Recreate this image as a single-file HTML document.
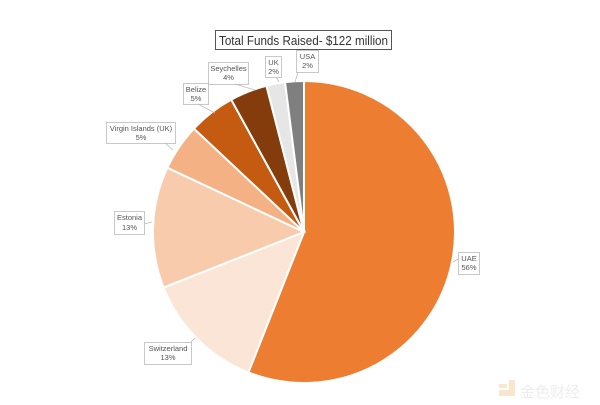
<!DOCTYPE html>
<html><head><meta charset="utf-8"><style>
html,body{margin:0;padding:0;background:#fff;width:600px;height:405px;overflow:hidden}
svg{display:block;font-family:"Liberation Sans",sans-serif}
</style></head><body>
<svg id="s" width="600" height="405" viewBox="0 0 600 405">
<g id="pie"></g>
<rect x="215.5" y="30.5" width="176" height="19" fill="#fff" stroke="#555" stroke-width="1"/>
<text x="219" y="45" font-size="12.5" textLength="169" lengthAdjust="spacingAndGlyphs" fill="#333">Total Funds Raised- $122 million</text>
<g font-size="7.5" fill="#555" text-anchor="middle" stroke-width="0.8">
<g stroke="#bbb" fill="none">
<rect x="296.5" y="50.5" width="22" height="22"/>
<rect x="265.5" y="56.5" width="16" height="21"/>
<rect x="208.5" y="62.5" width="40" height="22"/>
<rect x="183.5" y="83.5" width="25" height="21"/>
<rect x="106.5" y="122.5" width="69" height="21"/>
<rect x="114.5" y="211.5" width="30" height="23"/>
<rect x="144.5" y="342.5" width="47" height="22"/>
<rect x="458.5" y="252.5" width="21" height="22"/>
<path d="M298 72 L295 82 M276 77 L279 82 M235 84 L255 90 M198 104 L215 113 M165 143 L173 150 M144 224 L152 222 M191 342 L195 338 M458 259 L453 262"/>
</g>
<text x="307.5" y="59">USA</text><text x="307.5" y="68">2%</text>
<text x="273.5" y="65">UK</text><text x="273.5" y="74">2%</text>
<text x="228.5" y="71">Seychelles</text><text x="228.5" y="80">4%</text>
<text x="196" y="92">Belize</text><text x="196" y="101">5%</text>
<text x="141" y="131">Virgin Islands (UK)</text><text x="141" y="140">5%</text>
<text x="129.5" y="220">Estonia</text><text x="129.5" y="230">13%</text>
<text x="168" y="351">Switzerland</text><text x="168" y="360">13%</text>
<text x="469" y="261">UAE</text><text x="469" y="270">56%</text>
</g>
<g opacity="0.25">
<rect x="499" y="384" width="8" height="4" fill="#e9a23b"/>
<rect x="499" y="390" width="16" height="6" fill="#e9a23b"/>
<rect x="509" y="380" width="6" height="10" fill="#e9a23b"/>
<text x="520" y="397" font-size="15" fill="#bbb" font-family="'Noto Sans CJK SC',sans-serif">金色财经</text>
</g>
</svg>
<script>
var cx=304,cy=232,r=151;
var d=[[56,"#ED7D31"],[13,"#FBE5D6"],[13,"#F8CBAD"],[5,"#F4B183"],[5,"#C55A11"],[4,"#843C0C"],[2,"#E7E6E6"],[2,"#7F7F7F"]];
var a=0,h="";
function pt(t){var q=t/100*2*Math.PI;return [(cx+r*Math.sin(q)).toFixed(2),(cy-r*Math.cos(q)).toFixed(2)];}
d.forEach(function(s){var p1=pt(a),p2=pt(a+s[0]);var lg=s[0]>50?1:0;
h+='<path d="M'+cx+' '+cy+' L'+p1[0]+' '+p1[1]+' A'+r+' '+r+' 0 '+lg+' 1 '+p2[0]+' '+p2[1]+' Z" fill="'+s[1]+'" stroke="#fff" stroke-width="2"/>';a+=s[0];});
document.getElementById("pie").innerHTML=h;
</script>
</body></html>
